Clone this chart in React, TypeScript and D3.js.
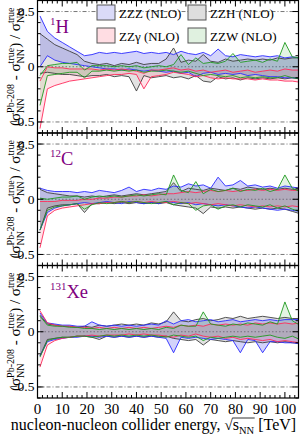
import * as d3 from 'd3';
import * as React from 'react';
import { Component } from 'react';

// collider energies (TeV) at which the ratios were evaluated
const energies = [1, 4, 7, 10, 13, 16, 19, 22, 25, 28, 31, 34, 37, 40, 43, 46, 49, 52, 55, 58, 61, 64, 67, 70, 73, 76, 79, 82, 85, 88, 91, 94, 97, 100, 103, 106];

const nucleusMass = ['1', '12', '131'];
const nucleusSymbol = ['H', 'C', 'Xe'];

const xTicks = [0, 10, 20, 30, 40, 50, 60, 70, 80, 90, 100];
const yTicks = [-0.5, 0, 0.5];

const models = ['ZZZ', 'ZZγ', 'ZZH', 'ZZW'];

// ---- 1H
const zzzHHi = [0.46, 0.32, 0.26, 0.22, 0.18, 0.14, 0.10, 0.11, 0.13, 0.12, 0.13, 0.12, 0.13, 0.14, 0.12, 0.13, 0.12, 0.13, 0.11, 0.14, 0.12, 0.11, 0.13, 0.10, 0.16, 0.10, 0.09, 0.11, 0.10, 0.09, 0.10, 0.09, 0.10, 0.08, 0.09, 0.08];
const zzzHLo = [0.00, 0.10, 0.06, 0.04, 0.03, 0.02, 0.01, 0.00, -0.01, -0.02, -0.02, -0.03, -0.02, -0.03, -0.04, -0.03, -0.04, -0.05, -0.04, -0.06, -0.05, -0.09, -0.06, -0.05, -0.07, -0.06, -0.07, -0.06, -0.08, -0.07, -0.08, -0.09, -0.09, -0.10, -0.10, -0.11];
const zzgHHi = [-0.13, 0.00, -0.01, -0.01, -0.02, -0.02, -0.02, -0.02, -0.03, -0.02, -0.03, -0.02, -0.03, -0.04, -0.06, -0.03, -0.03, -0.02, -0.01, -0.03, -0.02, -0.04, -0.03, -0.05, -0.04, -0.03, -0.05, -0.04, -0.03, -0.05, -0.04, -0.03, -0.04, -0.02, -0.03, -0.03];
const zzgHLo = [-0.56, -0.20, -0.17, -0.15, -0.13, -0.12, -0.11, -0.10, -0.09, -0.08, -0.07, -0.07, -0.06, -0.07, -0.20, -0.09, -0.08, -0.07, -0.05, -0.06, -0.07, -0.09, -0.08, -0.10, -0.11, -0.10, -0.11, -0.11, -0.11, -0.12, -0.11, -0.12, -0.12, -0.13, -0.13, -0.14];
const zzhHHi = [0.30, 0.25, 0.20, 0.17, 0.14, 0.11, 0.05, 0.03, 0.02, 0.03, 0.01, 0.03, 0.02, 0.04, 0.02, 0.03, 0.03, 0.07, 0.17, 0.04, 0.06, 0.05, 0.11, 0.05, 0.04, 0.07, 0.05, 0.06, 0.07, 0.06, 0.07, 0.06, 0.08, 0.07, 0.08, 0.08];
const zzhHLo = [-0.06, -0.05, -0.06, -0.07, -0.07, -0.08, -0.09, -0.08, -0.08, -0.07, -0.09, -0.08, -0.09, -0.22, -0.08, -0.10, -0.09, -0.08, -0.10, -0.09, -0.11, -0.08, -0.13, -0.14, -0.09, -0.11, -0.10, -0.12, -0.10, -0.11, -0.10, -0.11, -0.10, -0.11, -0.10, -0.10];
const zzwHHi = [-0.08, 0.01, 0.02, 0.03, 0.03, 0.04, -0.03, 0.01, 0.01, 0.01, 0.00, 0.01, 0.00, 0.01, -0.01, 0.00, 0.01, 0.00, 0.02, 0.11, 0.02, 0.08, 0.03, 0.04, 0.03, 0.05, 0.12, 0.04, 0.05, 0.06, 0.04, 0.07, 0.05, 0.22, 0.09, 0.08];
const zzwHLo = [-0.35, -0.08, -0.07, -0.06, -0.05, -0.05, -0.10, -0.04, -0.04, -0.03, -0.04, -0.03, -0.04, -0.03, -0.05, -0.04, -0.04, -0.03, -0.04, -0.05, -0.04, -0.06, -0.08, -0.07, -0.08, -0.09, -0.08, -0.10, -0.09, -0.10, -0.09, -0.10, -0.10, -0.08, -0.10, -0.11];

// ---- 12C
const zzzCHi = [0.10, 0.08, 0.07, 0.07, 0.07, 0.06, 0.07, 0.06, 0.08, 0.07, 0.06, 0.08, 0.11, 0.07, 0.09, 0.08, 0.10, 0.09, 0.12, 0.11, 0.14, 0.12, 0.13, 0.10, 0.20, 0.12, 0.13, 0.17, 0.12, 0.13, 0.11, 0.12, 0.10, 0.12, 0.11, 0.10];
const zzzCLo = [-0.28, -0.12, -0.08, -0.06, -0.05, -0.04, -0.03, -0.04, -0.03, -0.02, -0.03, -0.04, -0.02, -0.03, -0.04, -0.03, -0.04, -0.02, -0.03, -0.04, -0.03, -0.05, -0.04, -0.05, -0.06, -0.05, -0.06, -0.07, -0.08, -0.07, -0.08, -0.09, -0.10, -0.09, -0.10, -0.11];
const zzgCHi = [-0.02, -0.02, -0.02, -0.01, -0.01, -0.01, 0.00, 0.00, 0.01, 0.01, 0.02, 0.02, 0.03, 0.03, 0.04, 0.03, 0.04, 0.05, 0.05, 0.06, 0.07, 0.06, 0.07, 0.08, 0.07, 0.08, 0.07, 0.08, 0.08, 0.09, 0.08, 0.09, 0.08, 0.09, 0.08, 0.08];
const zzgCLo = [-0.44, -0.15, -0.10, -0.08, -0.07, -0.06, -0.05, -0.04, -0.04, -0.03, -0.03, -0.02, -0.03, -0.02, -0.03, -0.02, -0.03, -0.03, -0.02, -0.03, -0.04, -0.03, -0.04, -0.05, -0.04, -0.05, -0.06, -0.05, -0.06, -0.07, -0.06, -0.07, -0.06, -0.07, -0.06, -0.07];
const zzhCHi = [0.09, 0.06, 0.05, 0.04, 0.03, 0.03, 0.02, 0.03, 0.02, 0.03, 0.04, 0.03, 0.04, 0.05, 0.04, 0.05, 0.06, 0.07, 0.15, 0.07, 0.10, 0.09, 0.08, 0.10, 0.09, 0.08, 0.10, 0.09, 0.11, 0.10, 0.09, 0.10, 0.09, 0.10, 0.09, 0.09];
const zzhCLo = [-0.28, -0.08, -0.06, -0.05, -0.05, -0.04, -0.12, -0.04, -0.04, -0.03, -0.04, -0.03, -0.04, -0.03, -0.04, -0.03, -0.04, -0.03, -0.05, -0.06, -0.07, -0.08, -0.13, -0.07, -0.08, -0.07, -0.08, -0.07, -0.08, -0.09, -0.08, -0.09, -0.08, -0.09, -0.11, -0.13];
const zzwCHi = [0.01, 0.00, 0.01, 0.02, 0.02, 0.03, 0.00, 0.02, 0.03, 0.02, 0.03, 0.02, 0.03, 0.04, 0.03, 0.04, 0.05, 0.04, 0.22, 0.08, 0.06, 0.16, 0.05, 0.09, 0.07, 0.08, 0.10, 0.07, 0.09, 0.08, 0.10, 0.07, 0.09, 0.22, 0.10, 0.07];
const zzwCLo = [-0.28, -0.10, -0.07, -0.06, -0.05, -0.04, -0.09, -0.05, -0.03, -0.04, -0.03, -0.02, -0.03, -0.02, -0.03, -0.04, -0.03, -0.02, -0.05, -0.03, -0.04, -0.10, -0.06, -0.05, -0.09, -0.06, -0.05, -0.07, -0.05, -0.06, -0.07, -0.05, -0.08, -0.06, -0.09, -0.11];

// ---- 131Xe
const zzzXHi = [0.17, 0.08, 0.07, 0.06, 0.06, 0.05, 0.05, 0.09, 0.06, 0.05, 0.06, 0.05, 0.06, 0.05, 0.06, 0.07, 0.06, 0.10, 0.07, 0.10, 0.11, 0.09, 0.10, 0.11, 0.09, 0.10, 0.11, 0.09, 0.10, 0.11, 0.10, 0.11, 0.10, 0.11, 0.11, 0.11];
const zzzXLo = [-0.22, -0.09, -0.07, -0.06, -0.05, -0.05, -0.04, -0.04, -0.05, -0.04, -0.05, -0.04, -0.05, -0.04, -0.05, -0.04, -0.05, -0.06, -0.19, -0.05, -0.06, -0.05, -0.06, -0.07, -0.06, -0.07, -0.08, -0.19, -0.07, -0.08, -0.19, -0.09, -0.09, -0.10, -0.10, -0.11];
const zzgXHi = [0.19, 0.08, 0.06, 0.05, 0.05, 0.04, 0.04, 0.03, 0.04, 0.03, 0.04, 0.03, 0.04, 0.03, 0.04, 0.03, 0.04, 0.05, 0.04, 0.06, 0.05, 0.06, 0.05, 0.07, 0.06, 0.07, 0.06, 0.07, 0.06, 0.08, 0.07, 0.08, 0.07, 0.08, 0.07, 0.08];
const zzgXLo = [-0.32, -0.12, -0.08, -0.06, -0.05, -0.04, -0.04, -0.03, -0.04, -0.03, -0.03, -0.03, -0.02, -0.03, -0.02, -0.03, -0.03, -0.04, -0.05, -0.03, -0.04, -0.02, -0.04, -0.05, -0.04, -0.06, -0.05, -0.07, -0.06, -0.07, -0.08, -0.07, -0.09, -0.08, -0.09, -0.10];
const zzhXHi = [0.15, 0.07, 0.06, 0.05, 0.05, 0.04, 0.05, 0.04, 0.06, 0.05, 0.06, 0.07, 0.06, 0.07, 0.06, 0.08, 0.07, 0.09, 0.18, 0.10, 0.09, 0.11, 0.12, 0.10, 0.11, 0.13, 0.12, 0.14, 0.12, 0.13, 0.14, 0.13, 0.12, 0.13, 0.12, 0.12];
const zzhXLo = [-0.22, -0.07, -0.06, -0.05, -0.05, -0.04, -0.04, -0.05, -0.07, -0.04, -0.05, -0.04, -0.05, -0.04, -0.05, -0.04, -0.05, -0.04, -0.06, -0.07, -0.08, -0.07, -0.12, -0.07, -0.08, -0.09, -0.08, -0.09, -0.10, -0.09, -0.10, -0.09, -0.10, -0.09, -0.10, -0.10];
const zzwXHi = [0.14, 0.06, 0.05, 0.05, 0.04, 0.04, 0.03, 0.03, 0.02, 0.03, 0.02, 0.03, 0.02, 0.03, 0.02, 0.03, 0.02, 0.04, 0.03, 0.06, 0.05, 0.05, 0.18, 0.07, 0.06, 0.05, 0.07, 0.06, 0.08, 0.07, 0.06, 0.09, 0.07, 0.27, 0.10, 0.06];
const zzwXLo = [-0.23, -0.08, -0.06, -0.05, -0.05, -0.04, -0.04, -0.05, -0.04, -0.03, -0.04, -0.03, -0.04, -0.03, -0.04, -0.03, -0.04, -0.05, -0.03, -0.04, -0.05, -0.04, -0.08, -0.05, -0.06, -0.05, -0.04, -0.05, -0.04, -0.05, -0.04, -0.03, -0.05, -0.06, -0.04, -0.07];

// bands per panel, in model order ZZZ, ZZγ, ZZH, ZZW
const panelBands = [
  [[zzzHHi, zzzHLo], [zzgHHi, zzgHLo], [zzhHHi, zzhHLo], [zzwHHi, zzwHLo]],
  [[zzzCHi, zzzCLo], [zzgCHi, zzgCLo], [zzhCHi, zzhCLo], [zzwCHi, zzwCLo]],
  [[zzzXHi, zzzXLo], [zzgXHi, zzgXLo], [zzhXHi, zzhXLo], [zzwXHi, zzwXLo]],
];

const lineColor = ['#2a2aff', '#ff2a5a', '#404040', '#1f9a1f'];
const fillColor = ['rgba(70,70,235,0.24)', 'rgba(255,70,110,0.15)', 'rgba(110,110,110,0.2)', 'rgba(70,180,70,0.15)'];
const legendFill = ['#dadaf8', '#ffdde3', '#dedede', '#e0f1e0'];
const drawOrder = [2, 0, 1, 3];

const FONT = "'Liberation Serif', 'Times New Roman', serif";

interface IRefs {
  svg?: SVGSVGElement | null;
}

export default class App extends Component {

  private ctrls: IRefs = {};

  public componentDidMount() {
    this.renderChart();
  }

  public render() {
    return (
      <svg ref={el => (this.ctrls.svg = el)} width={301} height={443} style={{ display: 'block', background: '#fff' }} />
    );
  }

  private renderChart = () => {
    document.body.style.margin = '0';
    const svg = d3.select(this.ctrls.svg as SVGSVGElement);
    svg.selectAll('*').remove();

    const left = 37.5;
    const right = 298.5;
    const panelH = 132.5;
    const tops = [0.5, 133, 265.5];

    const x = d3.scaleLinear().domain([0, 105.5]).range([left, right]);

    tops.forEach((top, p) => {
      const y = d3.scaleLinear().domain([-0.6, 0.6]).range([top + panelH, top]);

      svg.append('clipPath').attr('id', 'clip' + p)
        .append('rect').attr('x', left).attr('y', top).attr('width', right - left).attr('height', panelH);

      // reference lines
      yTicks.forEach(v => {
        svg.append('line')
          .attr('x1', left).attr('x2', right).attr('y1', y(v)).attr('y2', y(v))
          .attr('stroke', '#777').attr('stroke-width', 1)
          .attr('stroke-dasharray', v === 0 ? '1.5,2' : '4,2,1,2');
      });

      const g = svg.append('g').attr('clip-path', `url(#clip${p})`);
      const rows = (m: number) => energies.map((e, i) => ({ e, hi: panelBands[p][m][0][i], lo: panelBands[p][m][1][i] }));

      const area = d3.area<any>().x(d => x(d.e)).y0(d => y(d.lo)).y1(d => y(d.hi));
      drawOrder.forEach(m => {
        g.append('path').attr('d', area(rows(m)) as string).attr('fill', fillColor[m]).attr('stroke', 'none');
      });
      drawOrder.forEach(m => {
        const hiLine = d3.line<any>().x(d => x(d.e)).y(d => y(d.hi));
        const loLine = d3.line<any>().x(d => x(d.e)).y(d => y(d.lo));
        [hiLine, loLine].forEach(ln => {
          g.append('path').attr('d', ln(rows(m)) as string)
            .attr('fill', 'none').attr('stroke', lineColor[m]).attr('stroke-width', 0.9);
        });
      });

      // frame
      svg.append('rect').attr('x', left).attr('y', top).attr('width', right - left).attr('height', panelH)
        .attr('fill', 'none').attr('stroke', '#000').attr('stroke-width', 1.2);

      // ticks, pointing inwards on all four sides
      const ticks = svg.append('g').attr('stroke', '#000').attr('stroke-width', 1);
      d3.range(0, 106, 2).forEach(v => {
        const len = v % 10 === 0 ? 6 : 3;
        ticks.append('line').attr('x1', x(v)).attr('x2', x(v)).attr('y1', top + panelH).attr('y2', top + panelH - len);
        ticks.append('line').attr('x1', x(v)).attr('x2', x(v)).attr('y1', top).attr('y2', top + len);
      });
      d3.range(-6, 7).forEach(k => {
        const v = k / 10;
        const len = k % 5 === 0 ? 6 : 3;
        ticks.append('line').attr('x1', left).attr('x2', left + len).attr('y1', y(v)).attr('y2', y(v));
        ticks.append('line').attr('x1', right).attr('x2', right - len).attr('y1', y(v)).attr('y2', y(v));
      });

      yTicks.forEach(v => {
        svg.append('text')
          .attr('x', 34.5).attr('y', y(v) + 4.5)
          .attr('text-anchor', 'end')
          .style('font-family', FONT).style('font-size', '13.5px')
          .text(v === 0 ? '0' : (v < 0 ? '\u22120.5' : '0.5'));
      });

      // nucleus label
      const lab = svg.append('text')
        .attr('x', 50).attr('y', top + 32)
        .attr('fill', '#800080')
        .style('font-family', FONT).style('font-size', '18.5px');
      lab.append('tspan').attr('dy', -8).style('font-size', '11px').text(nucleusMass[p]);
      lab.append('tspan').attr('dy', 8).text(nucleusSymbol[p]);

      this.yLabel(svg, 20, top + panelH / 2);
    });

    // legend
    const legX = [97, 97, 188, 188];
    const legY = [5, 28, 5, 28];
    models.forEach((name, m) => {
      svg.append('rect').attr('x', legX[m]).attr('y', legY[m]).attr('width', 18).attr('height', 15)
        .attr('fill', legendFill[m]).attr('stroke', '#555').attr('stroke-width', 1);
      svg.append('text').attr('x', legX[m] + 22).attr('y', legY[m] + 13)
        .style('font-family', FONT).style('font-size', '13px')
        .text(name + ' (NLO)');
    });

    // x tick labels
    xTicks.forEach(v => {
      svg.append('text').attr('x', x(v)).attr('y', 413.5)
        .attr('text-anchor', 'middle')
        .style('font-family', FONT).style('font-size', '15px')
        .text(String(v));
    });

    this.xTitle(svg, 153.5, 430);
  }

  private yLabel = (svg: any, bx: number, cy: number) => {
    const outer = svg.append('g').attr('transform', `translate(${bx},${cy}) rotate(-90)`);
    const g = outer.append('g');
    let cx = 0;
    const main = (t: string) => {
      const el = g.append('text').attr('x', cx).attr('y', 0)
        .attr('xml:space', 'preserve').style('white-space', 'pre')
        .style('font-family', FONT).style('font-size', '15px').text(t);
      cx += (el.node() as SVGTextElement).getComputedTextLength();
    };
    const sigma = (sup: string) => {
      main('\u03c3');
      const a = g.append('text').attr('x', cx).attr('y', -6.5)
        .style('font-family', FONT).style('font-size', '10px').text(sup);
      const b = g.append('text').attr('x', cx).attr('y', 4)
        .style('font-family', FONT).style('font-size', '10px').text('NN');
      cx += Math.max((a.node() as SVGTextElement).getComputedTextLength(), (b.node() as SVGTextElement).getComputedTextLength());
    };
    main('(');
    sigma('Pb-208');
    main(' - ');
    sigma('true');
    main(') / ');
    sigma('true');
    g.attr('transform', `translate(${-cx / 2},0)`);
  }

  private xTitle = (svg: any, cxMid: number, base: number) => {
    const g = svg.append('g');
    let cx = 0;
    const piece = (t: string, size: number, dy: number) => {
      const el = g.append('text').attr('x', cx).attr('y', base + dy)
        .attr('xml:space', 'preserve').style('white-space', 'pre')
        .style('font-family', FONT).style('font-size', size + 'px').text(t);
      const w = (el.node() as SVGTextElement).getComputedTextLength();
      cx += w;
      return w;
    };
    piece('nucleon-nucleon collider energy, ', 16, 0);
    piece('\u221a', 15, 0);
    const s0 = cx;
    piece('s', 16, 0);
    piece('NN', 10.5, 3.5);
    const s1 = cx;
    g.append('line').attr('x1', s0 - 0.5).attr('x2', s1 + 0.5).attr('y1', base - 12).attr('y2', base - 12)
      .attr('stroke', '#000').attr('stroke-width', 0.8);
    piece(' [TeV]', 16, 0);
    g.attr('transform', `translate(${cxMid - cx / 2},0)`);
  }
}
